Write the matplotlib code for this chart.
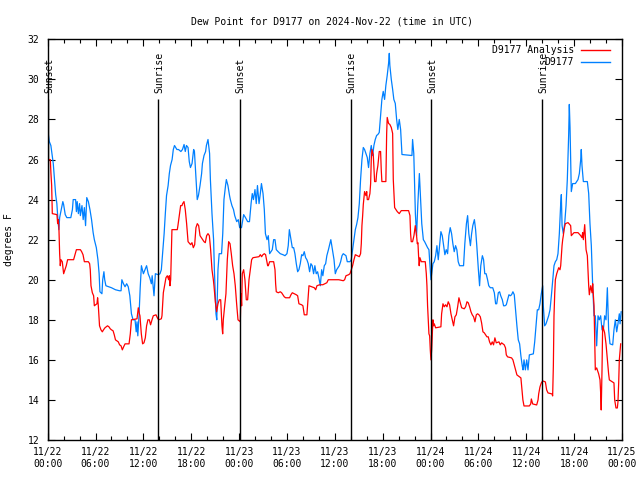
import matplotlib
matplotlib.use("Agg")
import matplotlib.pyplot as plt
from matplotlib.ticker import MultipleLocator

title = "Dew Point for D9177 on 2024-Nov-22 (time in UTC)"
ylabel = "degrees F"
series_names = ["D9177 Analysis", "D9177"]
series_colors = ["#ff0000", "#0080ff"]

tick_hours = [0, 6, 12, 18, 24, 30, 36, 42, 48, 54, 60, 66, 72]
tick_labels = ["11/22\n00:00", "11/22\n06:00", "11/22\n12:00", "11/22\n18:00",
               "11/23\n00:00", "11/23\n06:00", "11/23\n12:00", "11/23\n18:00",
               "11/24\n00:00", "11/24\n06:00", "11/24\n12:00", "11/24\n18:00",
               "11/25\n00:00"]

sun_hours = [0.08, 13.87, 24.1, 38.0, 48.1, 62.0]
sun_names = ["Sunset", "Sunrise", "Sunset", "Sunrise", "Sunset", "Sunrise"]

# hours since 2024-11-22 00:00 UTC
obs_hours = [0.0, 0.1, 0.2, 0.4, 0.5, 0.7, 0.85, 1.0, 1.15, 1.3, 1.4, 1.5, 1.7, 1.9, 2.0, 2.2, 2.4, 2.9, 3.1, 3.2,
             3.5, 3.6, 3.7, 3.85, 4.0, 4.1, 4.3, 4.45, 4.6, 4.75, 4.9, 5.1, 5.3, 5.5, 5.7, 5.85, 6.1, 6.3, 6.45, 6.55,
             6.8, 6.9, 7.05, 7.15, 7.3, 8.0, 8.5, 9.0, 9.2, 9.3, 9.5, 9.7, 9.9, 10.1, 10.3, 10.5, 10.7, 10.95, 11.1, 11.2,
             11.3, 11.45, 11.6, 11.75, 12.0, 12.2, 12.4, 12.6, 12.8, 13.0, 13.1, 13.33, 13.5, 13.87, 14.08, 14.25, 14.4, 14.6, 14.75, 14.9,
             15.1, 15.25, 15.4, 15.6, 15.75, 15.9, 16.2, 16.4, 16.7, 16.9, 17.1, 17.25, 17.4, 17.6, 17.75, 17.9, 18.1, 18.3, 18.4, 18.6,
             18.75, 18.9, 19.1, 19.3, 19.4, 19.6, 19.8, 19.9, 20.1, 20.3, 20.4, 20.6, 20.8, 20.9, 21.1, 21.2, 21.35, 21.5, 21.8, 21.95,
             22.1, 22.3, 22.4, 22.6, 22.8, 22.9, 23.1, 23.3, 23.45, 23.7, 23.9, 24.07, 24.3, 24.57, 24.8, 25.07, 25.3, 25.5, 25.65, 25.8,
             25.99, 26.15, 26.3, 26.5, 26.66, 26.8, 27.0, 27.16, 27.3, 27.5, 27.66, 27.83, 28.0, 28.16, 28.33, 28.5, 28.66, 28.9, 29.16, 29.5,
             29.75, 30.0, 30.16, 30.3, 30.5, 30.67, 30.84, 31.0, 31.17, 31.34, 31.5, 31.67, 31.84, 32.0, 32.17, 32.34, 32.5, 32.67, 32.84, 33.0,
             33.17, 33.34, 33.5, 33.67, 33.84, 34.0, 34.18, 34.35, 34.5, 34.68, 34.85, 35.0, 35.2, 35.35, 35.5, 35.7, 35.9, 36.06, 36.23, 36.4,
             36.56, 36.73, 36.9, 37.06, 37.23, 37.4, 37.56, 37.9, 38.06, 38.23, 38.4, 38.57, 38.73, 38.9, 39.07, 39.23, 39.4, 39.57, 39.73, 39.9,
             40.07, 40.23, 40.4, 40.57, 40.74, 40.9, 41.07, 41.24, 41.4, 41.57, 41.74, 41.9, 42.07, 42.24, 42.4, 42.57, 42.74, 42.83, 42.9, 43.08,
             43.25, 43.4, 43.58, 43.75, 43.9, 44.08, 44.25, 44.42, 45.67, 45.75, 45.9, 46.1, 46.25, 46.4, 46.6, 46.75, 46.9, 47.1, 47.26, 47.45,
             47.63, 47.8, 47.97, 48.05, 48.14, 48.3, 48.47, 48.64, 48.8, 48.97, 49.14, 49.3, 49.47, 49.64, 49.8, 49.97, 50.14, 50.3, 50.47, 50.64,
             50.8, 50.97, 51.14, 51.3, 51.47, 51.64, 52.14, 52.23, 52.3, 52.5, 52.65, 52.8, 53.0, 53.15, 53.3, 53.5, 53.65, 53.8, 54.0, 54.15,
             54.3, 54.5, 54.65, 54.8, 54.97, 55.15, 55.3, 55.5, 55.8, 56.0, 56.16, 56.3, 56.5, 56.66, 56.8, 57.0, 57.16, 57.33, 57.5, 57.66,
             57.83, 58.0, 58.16, 58.33, 58.5, 58.66, 58.83, 59.0, 59.17, 59.33, 59.5, 59.6, 59.72, 59.89, 60.06, 60.22, 60.39, 60.89, 61.06, 61.22,
             61.39, 61.56, 61.72, 61.89, 62.06, 62.14, 62.31, 62.48, 62.65, 62.81, 62.98, 63.15, 63.32, 63.48, 63.65, 63.82, 63.98, 64.15, 64.32, 64.4,
             64.49, 64.65, 64.82, 64.99, 65.15, 65.32, 65.4, 65.49, 65.57, 65.65, 65.82, 66.16, 66.49, 66.66, 66.83, 66.9, 66.99, 67.16, 67.66, 67.83,
             67.99, 68.16, 68.33, 68.5, 68.66, 68.83, 69.0, 69.16, 69.33, 69.5, 69.67, 69.83, 70.0, 70.17, 70.33, 70.5, 70.84, 71.0, 71.17, 71.34,
             71.5, 71.67, 71.76, 71.9]
obs_values = [27.7, 27.2, 26.9, 26.7, 26.4, 25.8, 25.0, 24.25, 23.8, 22.9, 22.5, 23.1, 23.5, 23.9, 23.75, 23.25, 23.1, 23.1, 23.5, 24.0,
              24.0, 23.4, 23.9, 23.3, 23.8, 23.2, 23.7, 23.0, 23.6, 22.7, 24.1, 23.9, 23.5, 23.0, 22.35, 22.0, 21.6, 21.0, 20.3, 19.4,
              19.3, 20.0, 20.4, 20.0, 19.7, 19.6, 19.5, 19.45, 19.45, 20.0, 19.8, 19.65, 19.8, 19.65, 19.2, 18.3, 18.0, 18.0, 17.4, 17.9,
              17.2, 18.2, 19.6, 20.7, 20.3, 20.5, 20.7, 20.3, 20.1, 19.8, 20.2, 19.2, 20.3, 20.25, 20.3, 20.5, 21.3, 22.3, 23.3, 24.2,
              24.7, 25.3, 25.7, 26.0, 26.5, 26.7, 26.5, 26.5, 26.4, 26.5, 26.75, 26.4, 26.7, 26.6, 25.9, 25.6, 25.8, 26.5, 26.4, 25.0,
              24.0, 24.2, 24.7, 25.3, 25.8, 26.2, 26.4, 26.7, 27.0, 26.3, 25.0, 23.3, 22.0, 20.5, 18.3, 18.0, 20.5, 21.3, 21.3, 22.3,
              24.0, 24.7, 25.0, 24.7, 24.2, 24.0, 23.7, 23.5, 23.2, 22.9, 23.0, 22.6, 22.6, 23.25, 23.1, 22.9, 22.9, 23.8, 24.3, 24.0,
              24.5, 23.8, 24.7, 23.8, 24.3, 24.8, 24.3, 23.5, 22.3, 22.0, 22.2, 21.3, 21.4, 21.5, 22.0, 22.0, 21.5, 21.4, 21.3, 21.25,
              21.2, 21.3, 21.7, 22.5, 22.0, 21.6, 21.6, 21.3, 20.8, 20.4, 20.5, 20.8, 21.25, 21.2, 21.4, 21.1, 21.0, 20.8, 20.4, 20.8,
              20.7, 20.3, 20.7, 20.3, 20.4, 20.1, 19.7, 20.5, 20.2, 20.7, 20.8, 21.2, 21.5, 21.75, 22.0, 21.5, 21.0, 20.3, 20.5, 20.6,
              20.7, 20.9, 21.2, 21.3, 21.25, 21.2, 20.9, 20.9, 21.0, 21.5, 22.0, 22.5, 22.75, 23.1, 23.8, 25.0, 26.0, 26.6, 26.5, 26.3,
              26.1, 25.6, 26.3, 26.7, 26.2, 26.7, 27.0, 27.2, 27.25, 27.35, 28.2, 29.0, 29.4, 29.0, 29.7, 30.2, 30.8, 31.3, 30.7, 30.0,
              29.5, 29.0, 28.8, 28.0, 27.5, 28.0, 27.5, 26.25, 26.2, 27.0, 26.3, 23.3, 22.2, 23.7, 25.3, 24.0, 22.8, 22.0, 21.9, 21.75,
              21.6, 21.5, 20.5, 20.0, 20.3, 20.8, 20.9, 21.2, 21.7, 21.0, 21.7, 22.4, 22.2, 21.7, 21.25, 21.5, 21.3, 22.2, 22.6, 22.3,
              21.8, 21.4, 21.7, 21.5, 20.9, 20.7, 20.7, 21.3, 21.8, 22.8, 23.2, 22.3, 21.7, 22.3, 22.7, 23.0, 22.5, 21.7, 20.5, 19.7,
              20.7, 21.2, 21.0, 20.3, 20.3, 20.0, 19.7, 19.6, 19.6, 19.35, 18.8, 18.8, 19.35, 19.4, 19.2, 19.0, 18.7, 18.7, 18.75, 19.0,
              19.25, 19.2, 19.25, 19.4, 19.25, 18.5, 17.7, 17.0, 16.8, 16.2, 15.7, 15.5, 16.0, 15.5, 16.0, 15.5, 16.25, 16.3, 16.9, 17.7,
              18.5, 18.5, 18.8, 19.3, 19.7, 18.7, 17.7, 17.8, 18.0, 18.2, 18.5, 19.2, 20.0, 20.7, 20.9, 21.0, 21.3, 22.3, 23.8, 24.25,
              22.7, 22.3, 22.8, 23.7, 25.0, 27.25, 28.75, 27.6, 26.0, 24.4, 24.8, 24.8, 25.0, 25.3, 26.0, 26.5, 25.7, 24.9, 24.9, 24.3,
              22.8, 21.7, 19.7, 18.2, 18.2, 16.7, 18.2, 18.0, 18.2, 17.5, 17.5, 18.2, 18.0, 19.6, 17.5, 16.8, 16.75, 17.5, 18.0, 17.4,
              17.8, 18.3, 17.8, 18.4]

ana_hours = [0.0, 0.16, 0.33, 0.41, 0.5, 0.58, 1.16, 1.25, 1.33, 1.4, 1.5, 1.58, 1.66, 1.83, 2.0, 2.17, 2.33, 2.5, 3.25, 3.42,
             3.6, 4.1, 4.26, 4.43, 4.6, 5.1, 5.26, 5.34, 5.43, 5.6, 5.76, 5.85, 6.0, 6.18, 6.26, 6.35, 6.43, 6.5, 6.68, 6.85,
             7.0, 7.18, 7.5, 7.68, 7.85, 8.0, 8.2, 8.35, 8.5, 8.85, 9.02, 9.2, 9.36, 9.52, 9.7, 10.2, 10.36, 10.5, 11.2, 11.36,
             11.5, 11.57, 11.74, 11.9, 12.07, 12.24, 12.4, 12.57, 12.74, 12.9, 13.08, 13.24, 13.58, 13.75, 13.91, 14.25, 14.33, 14.5, 14.66, 14.83,
             15.0, 15.17, 15.25, 15.33, 15.42, 15.5, 15.58, 16.25, 16.33, 16.5, 16.67, 16.84, 16.92, 17.09, 17.25, 17.42, 17.6, 17.92, 18.09, 18.26,
             18.43, 18.59, 18.76, 18.93, 19.1, 19.6, 19.76, 19.93, 20.1, 20.27, 20.43, 20.6, 20.77, 20.85, 21.02, 21.18, 21.35, 21.52, 21.69, 21.85,
             21.94, 22.02, 22.19, 22.35, 22.52, 22.69, 22.86, 23.02, 23.19, 23.36, 23.52, 23.69, 23.86, 24.15, 24.23, 24.32, 24.4, 24.57, 24.73, 24.9,
             25.07, 25.24, 25.4, 25.57, 25.74, 26.49, 26.66, 26.82, 26.99, 27.16, 27.32, 27.49, 27.58, 27.66, 27.83, 28.33, 28.5, 28.58, 28.66, 28.91,
             29.16, 29.33, 29.5, 29.66, 29.83, 30.33, 30.5, 30.67, 31.17, 31.34, 31.5, 31.84, 32.0, 32.17, 32.5, 32.6, 32.68, 32.76, 33.43, 33.6,
             33.76, 34.1, 34.5, 35.0, 35.18, 35.5, 36.5, 37.06, 37.23, 37.4, 37.73, 37.9, 38.06, 38.23, 38.4, 38.57, 39.07, 39.23, 39.32, 39.4,
             39.49, 39.57, 39.73, 39.9, 40.0, 40.07, 40.23, 40.4, 40.49, 40.57, 40.65, 40.82, 40.99, 41.16, 41.24, 41.4, 41.57, 41.74, 41.82, 41.9,
             42.4, 42.5, 42.57, 42.74, 42.9, 43.08, 43.25, 43.33, 43.5, 43.83, 44.08, 44.33, 45.25, 45.42, 45.5, 45.58, 45.75, 45.92, 46.09, 46.25,
             46.34, 46.42, 46.5, 46.58, 46.67, 46.84, 47.34, 47.47, 47.55, 47.63, 47.8, 47.89, 47.97, 48.05, 48.14, 48.22, 48.3, 48.39, 48.47, 48.64,
             49.3, 49.39, 49.56, 49.72, 49.89, 50.06, 50.22, 50.39, 50.56, 50.73, 50.89, 51.06, 51.23, 51.4, 51.56, 51.73, 51.9, 52.23, 52.4, 52.57,
             52.73, 52.9, 53.07, 53.23, 53.4, 53.57, 53.74, 53.9, 54.07, 54.24, 54.4, 54.57, 54.74, 54.9, 55.07, 55.24, 55.4, 55.57, 55.74, 55.9,
             56.07, 56.24, 56.58, 56.74, 56.91, 57.24, 57.4, 57.5, 57.66, 58.16, 58.33, 58.5, 58.67, 58.83, 59.0, 59.33, 59.5, 59.58, 59.72, 60.39,
             60.56, 60.64, 60.81, 61.31, 61.48, 61.56, 61.72, 61.89, 62.06, 62.4, 62.56, 62.73, 63.23, 63.31, 63.4, 63.48, 63.57, 63.65, 63.82, 64.07,
             64.23, 64.32, 64.4, 64.49, 64.57, 64.65, 64.74, 64.9, 65.24, 65.57, 65.65, 65.99, 66.49, 66.83, 66.99, 67.07, 67.16, 67.33, 67.41, 67.5,
             67.66, 67.83, 67.91, 68.08, 68.25, 68.33, 68.5, 68.58, 68.66, 68.83, 69.08, 69.25, 69.33, 69.4, 69.5, 69.58, 69.83, 70.0, 70.17, 70.33,
             70.42, 71.0, 71.09, 71.25, 71.42, 71.5, 71.59, 71.67, 71.84]
ana_values = [25.9, 26.0, 26.0, 25.3, 24.7, 23.3, 23.25, 22.8, 23.0, 22.7, 21.3, 20.7, 21.0, 20.9, 20.3, 20.5, 20.7, 21.0, 21.0, 21.25,
              21.5, 21.5, 21.4, 21.25, 20.9, 20.9, 20.8, 20.5, 19.7, 19.35, 19.2, 18.7, 18.75, 18.8, 19.1, 18.7, 18.2, 17.7, 17.5, 17.4,
              17.5, 17.6, 17.7, 17.65, 17.55, 17.5, 17.45, 17.25, 17.0, 16.9, 16.75, 16.7, 16.5, 16.65, 16.8, 16.8, 17.3, 18.0, 18.05, 18.6,
              18.3, 18.2, 17.3, 16.8, 16.85, 17.1, 17.7, 18.0, 18.0, 17.75, 18.0, 18.2, 18.25, 18.1, 18.0, 18.05, 18.2, 19.35, 19.7, 20.1,
              20.2, 20.0, 20.2, 19.7, 20.0, 21.3, 22.5, 22.5, 22.7, 23.2, 23.7, 23.7, 23.8, 23.9, 23.5, 22.8, 21.9, 21.75, 21.85, 21.6,
              21.75, 22.6, 22.8, 22.7, 22.2, 21.9, 21.85, 22.2, 22.3, 22.2, 21.5, 20.5, 20.0, 19.7, 18.9, 18.4, 18.8, 19.0, 19.0, 17.7,
              17.3, 18.0, 18.7, 19.3, 21.0, 21.9, 21.8, 21.3, 20.7, 20.3, 19.7, 18.8, 18.0, 17.9, 19.3, 18.7, 20.3, 20.5, 20.0, 19.0,
              19.0, 20.0, 20.5, 21.0, 21.1, 21.15, 21.25, 21.15, 21.25, 21.3, 21.25, 20.9, 20.7, 20.7, 20.9, 20.9, 20.5, 19.8, 19.4, 19.35,
              19.4, 19.35, 19.25, 19.15, 19.1, 19.1, 19.25, 19.35, 19.25, 19.2, 18.8, 18.75, 18.7, 18.25, 18.25, 18.8, 19.2, 19.7, 19.6, 19.5,
              19.7, 19.75, 19.75, 19.85, 20.0, 20.0, 20.0, 19.95, 20.0, 20.2, 20.25, 20.3, 20.5, 20.7, 21.0, 21.25, 21.15, 21.3, 21.8, 22.7,
              23.2, 23.75, 24.4, 24.2, 24.4, 24.0, 24.0, 24.3, 24.8, 26.0, 26.5, 26.25, 24.9, 24.9, 25.3, 25.7, 26.4, 26.4, 25.5, 24.9,
              24.9, 27.3, 28.1, 27.8, 27.75, 27.6, 27.3, 25.0, 23.6, 23.4, 23.3, 23.45, 23.45, 23.2, 22.3, 21.9, 21.9, 22.2, 22.7, 22.2,
              21.8, 21.85, 21.2, 20.7, 21.1, 20.9, 20.9, 20.3, 19.7, 18.7, 17.3, 17.2, 16.5, 16.0, 16.5, 17.2, 18.0, 17.7, 17.8, 17.6,
              17.65, 18.3, 18.8, 18.65, 18.75, 18.65, 18.9, 18.75, 18.3, 18.0, 17.7, 18.15, 18.25, 18.65, 19.1, 18.85, 18.6, 18.55, 18.65, 18.9,
              18.85, 18.65, 18.4, 18.25, 18.15, 17.9, 18.25, 18.3, 18.25, 18.15, 17.85, 17.4, 17.35, 17.25, 17.15, 17.15, 16.9, 16.75, 16.9, 16.75,
              17.1, 16.85, 16.9, 16.75, 16.85, 16.75, 16.6, 16.25, 16.15, 16.1, 16.0, 15.75, 15.5, 15.25, 15.2, 15.1, 14.35, 14.0, 13.7, 13.7,
              13.8, 14.05, 13.8, 13.75, 14.0, 14.3, 14.65, 14.85, 14.95, 14.9, 14.5, 14.35, 14.3, 14.2, 15.7, 18.2, 19.3, 20.0, 20.3, 20.6,
              20.5, 20.7, 21.2, 21.7, 22.0, 22.2, 22.5, 22.8, 22.85, 22.7, 22.2, 22.35, 22.35, 22.2, 22.1, 22.35, 22.0, 22.75, 22.2, 21.5,
              21.2, 19.7, 19.25, 19.7, 19.35, 19.8, 18.7, 17.0, 15.5, 15.6, 15.3, 15.0, 14.35, 13.5, 15.5, 17.7, 17.35, 16.8, 16.0, 15.3,
              15.0, 14.85, 14.0, 13.6, 13.6, 13.9, 14.85, 16.0, 16.8]

plt.rcParams['font.family'] = ['DejaVu Sans Mono']
plt.rcParams['font.size'] = 7

fig = plt.figure(figsize=(6.4, 4.8), dpi=100)
ax = fig.add_axes([0.0745, 0.0833, 0.8973, 0.8348])

ax.plot(ana_hours, ana_values, color=series_colors[0], lw=0.9, zorder=3)
ax.plot(obs_hours, obs_values, color=series_colors[1], lw=0.9, zorder=2)

for h, name in zip(sun_hours, sun_names):
    ax.plot([h, h], [12, 29.0], color='black', lw=1.0, zorder=4, solid_capstyle='butt')
    ax.text(h + 0.12, 29.3, name, rotation=90, ha='center', va='bottom', color='black', fontsize=7)

ax.set_xlim(0, 72)
ax.set_ylim(12, 32)
ax.set_xticks(tick_hours)
ax.set_xticklabels(tick_labels)
ax.xaxis.set_minor_locator(MultipleLocator(2))
ax.set_yticks(range(12, 33, 2))
ax.tick_params(axis='both', which='both', direction='in', top=True, right=True, colors='black')
ax.tick_params(axis='both', which='major', length=5, width=0.8)
ax.tick_params(axis='both', which='minor', length=3, width=0.8)
ax.tick_params(axis='y', pad=6)
ax.tick_params(axis='x', pad=5)
for sp in ax.spines.values():
    sp.set_linewidth(1.0)
    sp.set_color('black')

ax.set_ylabel(ylabel)
ax.yaxis.set_label_coords(-0.058, 0.5)

# legend (right aligned text, sample to the right)
tr = ax.transAxes
legend_y = [0.973, 0.943]
for name, col, yy in zip(series_names, series_colors, legend_y):
    ax.text(0.9164, yy, name, transform=tr, ha='right', va='center', fontsize=7, zorder=5)
    ax.plot([0.9286, 0.979], [yy, yy], transform=tr, color=col, lw=1.0, zorder=5)

fig.text(0.518, 0.956, title, ha='center', va='center', fontsize=7)

fig.savefig("out.png", dpi=100)
